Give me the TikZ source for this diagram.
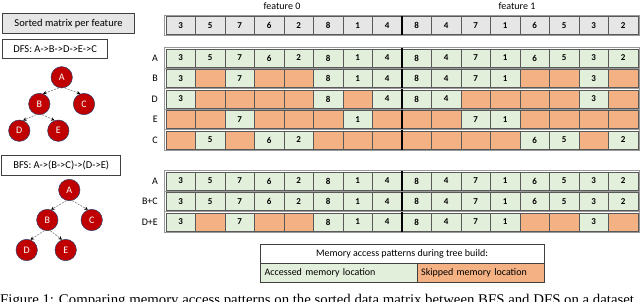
\documentclass[tikz,border=0pt]{standalone}
\usepackage{fontspec}
\setmainfont{Carlito}
\newfontfamily\capfont{Liberation Serif}
\usetikzlibrary{arrows.meta}
\definecolor{acc}{HTML}{E2EFDA}
\definecolor{skp}{HTML}{F4B183}
\definecolor{hdr}{HTML}{E7E6E6}
\definecolor{nodered}{HTML}{C00000}
\definecolor{nodeedge}{HTML}{2F3F6F}
\newcommand\mrow[4]{%
  \draw[rowframe] (164.8,{#2-1.2}) rectangle (639.2,{#2+19.2});
  \foreach \v [count=\i from 0] in {#3} {%
    \ifnum\v=0
      \node[cellbox,fill=skp] (#1-\i) at ({180.75+29.5*\i},{#2+9}) {};
    \else
      \node[cellbox,fill=#4] (#1-\i) at ({180.75+29.5*\i},{#2+9}) {\v};
    \fi
  }
  \draw[featsep] (402,{#2-0.8}) -- (402,{#2+18.8});
}
\begin{document}
\begin{tikzpicture}[x=1pt,y=-1pt,
  rowframe/.style={draw=black!40,line width=1.2pt},
  cellbox/.style={draw=black!65,line width=0.5pt,minimum width=29.5pt,minimum height=18pt,inner sep=0pt,font=\bfseries\fontsize{9}{9}\selectfont},
  featsep/.style={draw=black,line width=1.6pt},
  rowlabel/.style={anchor=east,inner sep=0pt,font=\fontsize{10}{10}\selectfont},
  infobox/.style={draw=black!75,line width=0.7pt,inner sep=0pt,font=\fontsize{10.5}{10.5}\selectfont},
  tnode/.style={circle,fill=nodered,draw=nodeedge,line width=0.5pt,minimum size=21.4pt,inner sep=0pt,text=white,font=\fontsize{10}{10}\selectfont},
  tedge/.style={draw=black!45,dash pattern=on 2pt off 1.2pt,line width=0.7pt,-{Stealth[length=3.5pt,width=3.5pt,black]}},
  legbox/.style={draw=black!75,line width=0.7pt,inner sep=0pt,font=\fontsize{10}{10}\selectfont}
]
\useasboundingbox (0,0) rectangle (640,301);
\clip (0,0) rectangle (640,301);

% left panel
\node[infobox,fill=hdr,minimum width=131.6pt,minimum height=20pt] (sorted) at (68.5,23.3) {Sorted matrix per feature};
\node[infobox,fill=white,minimum width=105pt,minimum height=19pt] (dfs) at (55.2,48.8) {DFS: A->B->D->E->C};
\node[infobox,fill=white,minimum width=119pt,minimum height=20pt] (bfs) at (61.2,165) {BFS: A->(B->C)->(D->E)};

% DFS tree
\node[tnode] (dA) at (61.7,77.3) {A};
\node[tnode] (dB) at (39.3,104) {B};
\node[tnode] (dC) at (84,104) {C};
\node[tnode] (dD) at (19.3,130.7) {D};
\node[tnode] (dE) at (58.3,130.7) {E};
\draw[tedge] (dA.-105) -- (dB.70);
\draw[tedge] (dA.-75) -- (dC.110);
\draw[tedge] (dB.-105) -- (dD.70);
\draw[tedge] (dB.-75) -- (dE.110);

% BFS tree
\node[tnode] (bA) at (69.3,190) {A};
\node[tnode] (bB) at (47.3,220) {B};
\node[tnode] (bC) at (91.7,220) {C};
\node[tnode] (bD) at (26.7,250) {D};
\node[tnode] (bE) at (65.7,250) {E};
\draw[tedge] (bA.-105) -- (bB.70);
\draw[tedge] (bA.-75) -- (bC.110);
\draw[tedge] (bB.-105) -- (bD.70);
\draw[tedge] (bB.-75) -- (bE.110);

% feature titles
\node[font=\fontsize{10}{10}\selectfont,inner sep=0pt] (f0) at (282,6) {feature 0};
\node[font=\fontsize{10}{10}\selectfont,inner sep=0pt] (f1) at (517,6) {feature 1};

% header row
\mrow{h}{16.5}{3,5,7,6,2,8,1,4,8,4,7,1,6,5,3,2}{hdr}

% DFS rows
\mrow{ra}{49}{3,5,7,6,2,8,1,4,8,4,7,1,6,5,3,2}{acc}
\mrow{rb}{69.5}{3,0,7,0,0,8,1,4,8,4,7,1,0,0,3,0}{acc}
\mrow{rd}{90}{3,0,0,0,0,8,0,4,8,4,0,0,0,0,3,0}{acc}
\mrow{re}{110.5}{0,0,7,0,0,0,1,0,0,0,7,1,0,0,0,0}{acc}
\mrow{rc}{131}{0,5,0,6,2,0,0,0,0,0,0,0,6,5,0,2}{acc}

% BFS rows
\mrow{qa}{172}{3,5,7,6,2,8,1,4,8,4,7,1,6,5,3,2}{acc}
\mrow{qbc}{192.5}{3,5,7,6,2,8,1,4,8,4,7,1,6,5,3,2}{acc}
\mrow{qde}{213}{3,0,7,0,0,8,1,4,8,4,7,1,0,0,3,0}{acc}

% row labels
\node[rowlabel] (la) at (158,58) {A};
\node[rowlabel] (lb) at (158,78.5) {B};
\node[rowlabel] (ld) at (158,99) {D};
\node[rowlabel] (le) at (158,119.5) {E};
\node[rowlabel] (lc) at (158,140) {C};
\node[rowlabel] (lqa) at (158,181) {A};
\node[rowlabel] (lqbc) at (158,201.5) {B+C};
\node[rowlabel] (lqde) at (158,222) {D+E};

% legend
\node[legbox,fill=white,minimum width=284pt,minimum height=18.7pt] (legt) at (402,253.65) {Memory access patterns during tree build:};
\node[legbox,fill=acc,minimum width=156.7pt,minimum height=18.7pt,anchor=north west,text width=148pt,align=left] (lega) at (260,263) {Accessed memory location};
\node[legbox,fill=skp,minimum width=127.3pt,minimum height=18.7pt,anchor=north west,text width=119pt,align=left] (legs) at (416.7,263) {Skipped memory location};

% caption (cut off by the picture edge, as in the reference)
\node[anchor=base west,inner sep=0pt,font=\capfont\fontsize{14.8}{14.8}\selectfont] (cap) at (0,304.8) {Figure 1: Comparing memory access patterns on the sorted data matrix between BFS and DFS on a dataset};
\end{tikzpicture}
\end{document}
